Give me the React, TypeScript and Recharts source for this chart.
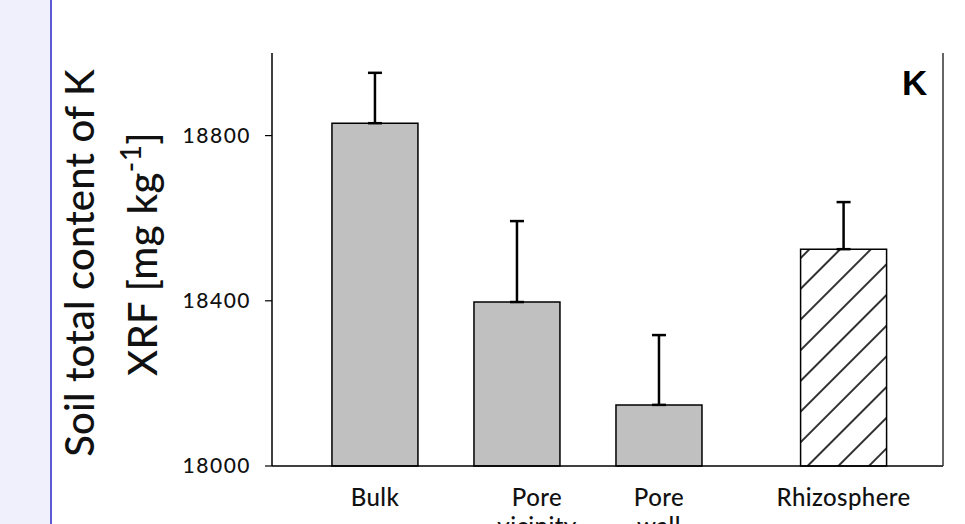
import React from "react";
import { BarChart, Bar, XAxis, YAxis, Cell, ErrorBar } from "recharts";

// Data
const categories = ["Bulk", "Pore vicinity", "Pore wall", "Rhizosphere"];
const positions = [1, 2, 3, 4.3];
const means = [18830, 18397, 18148, 18525];
const errors = [122, 196, 169, 114];
const yTicks = [18000, 18400, 18800];

const data = categories.map((name, i) => ({
  name,
  pos: positions[i],
  value: means[i],
  err: [0, errors[i]],
}));

const FONT = "Lato, 'Open Sans', sans-serif";
const labelShift: Record<string, number> = { "Pore vicinity": 20 };

const XTick = (props: any) => {
  const { x, y, payload } = props;
  const i = positions.indexOf(payload.value);
  if (i < 0) return null;
  const name = categories[i];
  const lines = name.split(" ");
  const dx = labelShift[name] || 0;
  return (
    <text
      x={x + dx}
      y={y + 32}
      textAnchor="middle"
      fontFamily={FONT}
      fontWeight={500}
      fontSize={24}
      letterSpacing={0.4}
      fill="#111"
    >
      {lines.map((l, k) => (
        <tspan key={k} x={x + dx} dy={k === 0 ? 0 : 29}>
          {l}
        </tspan>
      ))}
    </text>
  );
};

export default function App() {
  return (
    <div
      style={{
        position: "absolute",
        left: 0,
        top: 0,
        width: 965,
        height: 524,
        background: "#fff",
        overflow: "hidden",
      }}
    >
      <div
        style={{
          position: "absolute",
          left: 0,
          top: 0,
          width: 50,
          height: 524,
          background: "#f0f0fd",
          borderRight: "2px solid #5b5bd6",
        }}
      />
      <BarChart
        width={965}
        height={524}
        data={data}
        margin={{ top: 53, right: 21, bottom: 0, left: 0 }}
      >
        <defs>
          <pattern
            id="hatch"
            patternUnits="userSpaceOnUse"
            width={21.7}
            height={21.7}
            patternTransform="rotate(45)"
          >
            <rect width={21.7} height={21.7} fill="#fff" />
            <line x1={10.85} y1={0} x2={10.85} y2={21.7} stroke="#000" strokeWidth={1.6} />
          </pattern>
        </defs>
        <XAxis
          xAxisId="b"
          type="number"
          dataKey="pos"
          domain={[0.275, 5]}
          ticks={positions}
          height={58}
          tickLine={false}
          axisLine={{ stroke: "#000", strokeWidth: 1.5 }}
          tick={<XTick />}
          interval={0}
        />
        <XAxis
          xAxisId="t"
          orientation="top"
          type="number"
          dataKey="pos"
          domain={[0.275, 5]}
          height={0}
          tick={false}
          tickLine={false}
          axisLine={{ stroke: "#333", strokeWidth: 1.5 }}
        />
        <YAxis
          yAxisId="l"
          type="number"
          domain={[18000, 19000]}
          ticks={yTicks}
          width={272}
          tickSize={7}
          tickMargin={14}
          tickLine={{ stroke: "#000", strokeWidth: 1.2 }}
          axisLine={{ stroke: "#000", strokeWidth: 1.5 }}
          tick={{
            fontSize: 21,
            fontFamily: FONT,
            fontWeight: 500,
            letterSpacing: 1.5,
            fill: "#111",
          }}
        />
        <YAxis
          yAxisId="r"
          orientation="right"
          type="number"
          domain={[18000, 19000]}
          width={1}
          tick={false}
          tickLine={false}
          axisLine={{ stroke: "#333", strokeWidth: 1.5 }}
        />
        <Bar
          xAxisId="b"
          yAxisId="l"
          dataKey="value"
          barSize={86}
          stroke="#000"
          strokeWidth={1.5}
          isAnimationActive={false}
        >
          {data.map((d, i) => (
            <Cell key={d.name} fill={i === 3 ? "url(#hatch)" : "#c0c0c0"} />
          ))}
          <ErrorBar
            dataKey="err"
            direction="y"
            width={7}
            stroke="#000"
            strokeWidth={2.5}
            isAnimationActive={false}
          />
        </Bar>
      </BarChart>
      <svg
        width={965}
        height={524}
        style={{ position: "absolute", left: 0, top: 0, pointerEvents: "none" }}
      >
        <text
          transform="translate(94, 263) rotate(-90)"
          textAnchor="middle"
          fontFamily={FONT}
          fontWeight={500}
          fontSize={40}
          letterSpacing={0.2}
          fill="#111"
        >
          Soil total content of K
        </text>
        <text
          transform="translate(157, 254) rotate(-90)"
          textAnchor="middle"
          fontFamily={FONT}
          fontWeight={500}
          fontSize={40}
          letterSpacing={0.4}
          fill="#111"
        >
          <tspan>XRF [mg kg</tspan>
          <tspan fontSize={28} dy={-16}>-1</tspan>
          <tspan dy={16}>]</tspan>
        </text>
        <text
          x={902}
          y={95}
          fontFamily="'Liberation Sans', Arial, sans-serif"
          fontWeight="bold"
          fontSize={35}
          fill="#000"
        >
          K
        </text>
      </svg>
    </div>
  );
}
